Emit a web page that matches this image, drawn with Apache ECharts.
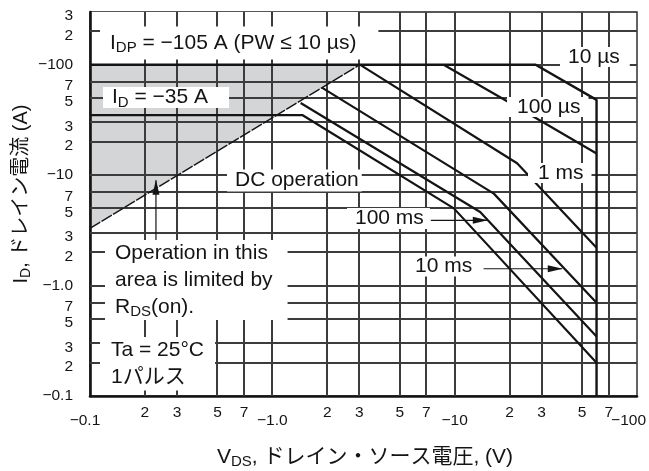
<!DOCTYPE html>
<html><head><meta charset="utf-8">
<script src="https://cdn.jsdelivr.net/npm/echarts@6/dist/echarts.min.js"></script>
<style>html,body{margin:0;padding:0;background:#fff}#c{width:649px;height:471px}</style>
</head><body><div id="c"></div>
<script>
// ---------- data ----------
const xTicks = [0.1,0.2,0.3,0.5,0.7,1,2,3,5,7,10,20,30,50,70,100];
const xTickLabels = ['−0.1','2','3','5','7','−1.0','2','3','5','7','−10','2','3','5','7','−100'];
const yTicks = [0.1,0.2,0.3,0.5,0.7,1,2,3,5,7,10,20,30,50,70,100,200,300];
const yTickLabels = ['−0.1','2','3','5','7','−1.0','2','3','5','7','−10','2','3','5','7','−100','2','3'];

const rdsLimit   = [[0.1, 3.3], [3.02, 100]];          // R_DS(on) limit
const idpLimit   = [[0.1, 100], [3.02, 100]];          // top of shaded area
const curve10us  = [[0.1, 100], [27.8, 100], [60, 48], [60, 0.1]];
const curve100us = [[8.7, 100], [19.4, 46.6], [60, 15.7]];
const curve1ms   = [[3.02, 100], [22, 12.8], [60, 2.2]];
const curve10ms  = [[1.87, 62], [16.4, 6.8], [60, 0.7]];
const curve100ms = [[1.43, 45], [13.8, 4.64], [60, 0.345]];
const curveDC    = [[0.1, 35], [1.46, 35], [9.9, 5.0], [60, 0.2]];
const arrows = [
  [[7.4, 3.9], [15.1, 3.9]],     // 100 ms
  [[14.4, 1.42], [38.9, 1.42]],  // 10 ms
  [[0.23, 2.3], [0.23, 9.0]]     // R_DS(on) area
];

// ---------- chart ----------
const FONT = '"Liberation Sans", Arial, "Noto Sans CJK JP", sans-serif';
const INK = '#141414';
const GRIDC = '#3c3c3c';
const chart = echarts.init(document.getElementById('c'));

function curve(name, data, extra) {
  return Object.assign({
    name, type: 'line', data, symbol: 'none', z: 6, silent: true,
    lineStyle: { color: INK, width: 2.2 }
  }, extra || {});
}

const isMajor = v => Math.abs(Math.log10(v) - Math.round(Math.log10(v))) < 1e-9;
const X0 = xTicks[0], X1 = xTicks[xTicks.length - 1];
const Y0 = yTicks[0], Y1 = yTicks[yTicks.length - 1];
const innerX = xTicks.filter((v, i) => i > 0 && i < xTicks.length - 1);
const innerY = yTicks.filter((v, i) => i > 0 && i < yTicks.length - 1);

const arrowSeries = arrows.map((a, i) => {
  const dx = Math.log10(a[1][0]) - Math.log10(a[0][0]);
  const dy = Math.log10(a[1][1]) - Math.log10(a[0][1]);
  const ang = Math.atan2(dy, dx);
  const rot = ang * 180 / Math.PI - 90;
  const off = [-Math.cos(ang) * 7, Math.sin(ang) * 7];
  return {
    type: 'line', name: 'arrow' + i, z: 7, silent: true, showSymbol: true,
    lineStyle: { color: INK, width: 1.2 }, itemStyle: { color: INK },
    data: [
      { value: a[0], symbol: 'none' },
      { value: a[1], symbol: 'triangle', symbolSize: [7, 15], symbolRotate: rot, symbolOffset: off }
    ]
  };
});

function logAxis(min, max) {
  return {
    type: 'log', logBase: 10, min, max, z: 4,
    axisLine: { show: true, lineStyle: { color: INK, width: 2.6 } },
    axisTick: { show: false }, axisLabel: { show: false }, splitLine: { show: false }
  };
}

const option = {
  animation: false,
  grid: { left: 90, right: 12, top: 12, bottom: 75, show: true, backgroundColor: 'rgba(0,0,0,0)', borderColor: '#222', borderWidth: 1.4 },
  xAxis: logAxis(X0, X1),
  yAxis: logAxis(Y0, Y1),
  series: [
    { type: 'line', name: 'shade', data: rdsLimit, symbol: 'none', z: 1, silent: true,
      lineStyle: { opacity: 0 }, areaStyle: { origin: 'end', color: '#d3d5d7', opacity: 1 } },
    { type: 'line', name: 'cover', data: idpLimit, symbol: 'none', z: 2, silent: true,
      lineStyle: { opacity: 0 }, areaStyle: { origin: 'end', color: '#ffffff', opacity: 1 } },
    curve('RDS(on)', rdsLimit, { lineStyle: { color: INK, width: 1.4, type: [12, 1.5] } }),
    curve('DC', curveDC),
    curve('100 ms', curve100ms),
    curve('10 ms', curve10ms),
    curve('1 ms', curve1ms),
    curve('100 µs', curve100us),
    curve('10 µs', curve10us, { lineStyle: { color: INK, width: 2.4 } })
  ].concat(arrowSeries)
};
chart.setOption(option);

// ---------- gridlines & texts (positions from the axes' own scales) ----------
const px = v => chart.convertToPixel({ xAxisIndex: 0 }, v);
const py = v => chart.convertToPixel({ yAxisIndex: 0 }, v);
const bottomY = py(Y0), topY = py(Y1), leftX = px(X0), rightX = px(X1);

const g = [];
innerX.forEach(v => {
  const x = Math.round(px(v));
  g.push({ type: 'rect', z: 5, silent: true,
    shape: { x: x - 1, y: Math.round(topY), width: 2, height: Math.round(bottomY - topY) },
    style: { fill: GRIDC } });
});
innerY.forEach(v => {
  const y = Math.round(py(v));
  g.push({ type: 'rect', z: 5, silent: true,
    shape: { x: Math.round(leftX), y: y - 1, width: Math.round(rightX - leftX), height: 2 },
    style: { fill: GRIDC } });
});

function rich(size) {
  return {
    m: { fontSize: size, fontFamily: FONT, fill: INK, lineHeight: size + 4 },
    s: { fontSize: Math.round(size * 0.7), fontFamily: FONT, fill: INK, lineHeight: size + 4, padding: [10, 0, 0, 0] },
    j: { fontSize: size, fontFamily: FONT, fill: INK, lineHeight: size + 4 }
  };
}
function box(text, x, y, pad, opts) {
  opts = opts || {};
  const size = opts.size || 21;
  const r = rich(size);
  if (opts.lh) { r.m.lineHeight = opts.lh; r.s.lineHeight = opts.lh; r.j.lineHeight = opts.lh; }
  return {
    type: 'text', x, y, z: 100, silent: true, rotation: opts.rot || 0,
    style: {
      text, rich: r, fontSize: size, fontFamily: FONT, fill: INK,
      align: opts.align || 'left', verticalAlign: opts.va || 'middle',
      backgroundColor: opts.bg === false ? null : '#ffffff', padding: pad
    }
  };
}

xTicks.forEach((v, i) => {
  const major = isMajor(v);
  let x = px(v), align = 'center';
  if (i === 0) x -= 5;
  if (i === xTicks.length - 1) { x += 9; align = 'right'; }
  g.push({ type: 'text', x, y: bottomY + (major ? 25 : 16.5), z: 100, silent: true,
    style: { text: xTickLabels[i], fontSize: 15.5, fontFamily: FONT, fill: INK, align, verticalAlign: 'middle' } });
});
yTicks.forEach((v, i) => {
  const major = isMajor(v);
  g.push({ type: 'text', x: leftX - 17, y: py(v) + (major ? 0 : 4), z: 100, silent: true,
    style: { text: yTickLabels[i], fontSize: 15.5, fontFamily: FONT, fill: INK, align: 'right', verticalAlign: 'middle' } });
});

g.push(box('{m|I}{s|DP}{m| = −105 A (PW ≤ 10 µs)}', 100, 43, [4, 22, 4, 10]));
g.push(box('{m|I}{s|D}{m| = −35 A}', 103, 97.5, [0, 21, 0, 9], { lh: 21 }));
g.push(box('{m|DC operation}', 227, 180.5, [0, 3, 0, 8], { lh: 22 }));
g.push(box('{m|10 µs}', 560, 57, [0, 10, 0, 8], { lh: 20 }));
g.push(box('{m|100 µs}', 507, 107, [0, 8, 0, 10], { lh: 20 }));
g.push(box('{m|1 ms}', 528, 173, [0, 8, 0, 10], { lh: 20 }));
g.push(box('{m|100 ms}', 347, 218.5, [0, 6, 0, 8], { lh: 21 }));
g.push(box('{m|10 ms}', 410, 266.5, [0, 8, 0, 5], { lh: 20 }));
g.push(box('{m|Operation in this}\n{m|area is limited by}\n{m|R}{s|DS}{m|(on).}', 105, 240, [0, 15, 0, 10], { lh: 26.7, va: 'top' }));
g.push(box('{m|Ta = 25°C}\n{j|1パルス}', 100, 337, [0, 11, 0, 11], { lh: 26.7, va: 'top' }));

// axis titles
g.push(box('{m|V}{s|DS}{m|, ドレイン・ソース電圧, (V)}', 365, 457, [0, 0, 0, 0], { align: 'center', bg: false }));
g.push(box('{m|I}{s|D}{m|, ドレイン電流 (A)}', 21, 194, [0, 0, 0, 0], { align: 'center', bg: false, rot: Math.PI / 2, size: 20 }));

chart.setOption({ graphic: { elements: g } });
</script>
</body></html>
